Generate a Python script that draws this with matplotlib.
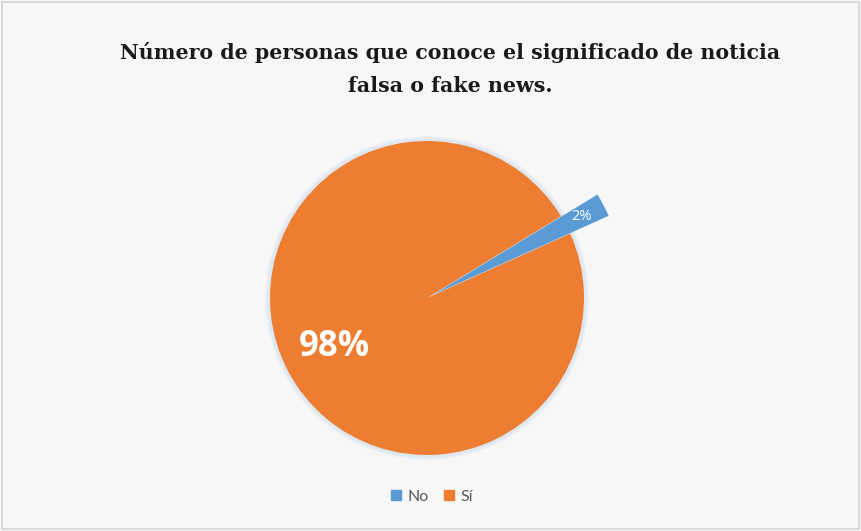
import numpy as np
import matplotlib.pyplot as plt
from matplotlib.patches import Rectangle, Circle

# survey answers
labels = ["No", "Sí"]
values = [2, 98]
colors = ["#5B9BD5", "#ED7D31"]

title = "Número de personas que conoce el significado de noticia\nfalsa o fake news."

W, H = 862, 531
fig = plt.figure(figsize=(W / 100, H / 100), dpi=100)
fig.patch.set_facecolor("#f7f7f7")
fig.patches.append(Rectangle((0.002, 0.003), 0.995, 0.993, transform=fig.transFigure,
                             fill=False, edgecolor="#d4d4d4", linewidth=1.2))

# pie axes: centre (427, 298) px, radius 157 px
r_px = 157
side = 2.6 * r_px
cx, cy = 427, H - 298
ax = fig.add_axes([(cx - side / 2) / W, (cy - side / 2) / H, side / W, side / H])

wedges, texts, autotexts = ax.pie(
    values, colors=colors, startangle=31.4, counterclock=False,
    explode=[0.05, 0], autopct="%1.0f%%", pctdistance=0.67,
    wedgeprops=dict(linewidth=0), radius=1,
    textprops=dict(color="white", family="Open Sans", fontweight="bold"))

# pie() resets the limits, so fix them afterwards
ax.set_xlim(-1.3, 1.3)
ax.set_ylim(-1.3, 1.3)
ax.set_aspect("equal")
ax.axis("off")

# soft glow around the pie
for rr, a in [(1.03, 0.25), (1.018, 0.35)]:
    ax.add_patch(Circle((0, 0), rr, color="#c9d9ea", alpha=a, lw=0, zorder=0))

# the "No" slice sticks out past the rest of the pie
wedges[0].set_radius(1.22)
wedges[0].set_zorder(3)

autotexts[1].set_fontsize(25)
autotexts[0].set_fontsize(10.5)
autotexts[0].set_fontweight("normal")
autotexts[0].set_zorder(4)
th = np.deg2rad((wedges[0].theta1 + wedges[0].theta2) / 2)
autotexts[0].set_position((1.11 * np.cos(th), 1.11 * np.sin(th)))

fig.text(0.522, 0.870, title, ha="center", va="center", fontsize=14.8,
         family="DejaVu Serif", fontweight="bold", linespacing=1.8, color="#1a1a1a")

# legend
leg = fig.legend(handles=[Rectangle((0, 0), 1, 1, color=c) for c in colors], labels=labels,
                 loc="center", bbox_to_anchor=(432 / W, 1 - 497 / H), ncol=2, frameon=False,
                 handlelength=0.6, handleheight=0.6, handletextpad=0.4, columnspacing=1.0,
                 prop=dict(family="Lato", size=11.5))
for t in leg.get_texts():
    t.set_color("#595959")

fig.savefig("out.png", dpi=100, facecolor=fig.get_facecolor())
